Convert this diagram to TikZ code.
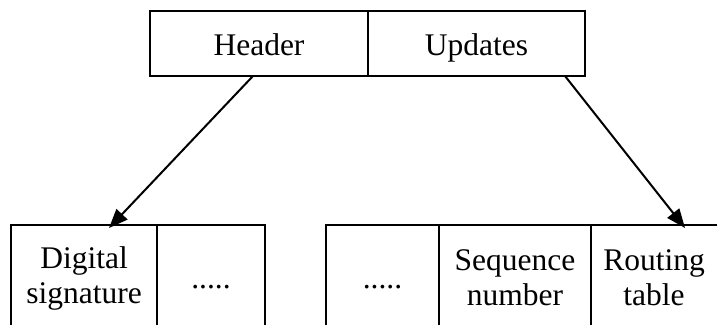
\documentclass[tikz,border=0pt]{standalone}
\usepackage{fontspec}
\setmainfont{Liberation Serif}
\usetikzlibrary{arrows.meta}
% fixed struts so every two-line cell sits on the same baselines
\newcommand\hiline{\rule{0pt}{28pt}}
\newcommand\loline{\rule[-3pt]{0pt}{3pt}}
\begin{document}
\begin{tikzpicture}[x=1pt,y=-1pt,
  line width=2pt,
  every node/.style={font=\fontsize{31.5}{35}\selectfont, inner sep=0pt, outer sep=0pt},
  cell/.style={minimum height=100pt, align=center},
  topcell/.style={minimum height=65pt, text height=25pt, text depth=2pt},
  dotcell/.style={minimum height=100pt, text height=26pt, text depth=0pt},
  pointer/.style={-{Triangle[length=19pt,width=15pt]}, line width=2pt}]
\useasboundingbox (0,0) rectangle (717,325);

% packet: header and updates
\node[topcell, minimum width=218pt] (hdr) at (259,43.5) {Header};
\node[topcell, minimum width=217pt] (upd) at (476.5,43.5) {Updates};
\draw (hdr.north west) rectangle (upd.south east);
\draw (hdr.north east) -- (hdr.south east);

% header fields (open at the bottom)
\node[cell, minimum width=146pt] (sig) at (84,275) {\hiline Digital\\signature\loline};
\node[dotcell, minimum width=108pt] (dotsA) at (211,275) {.....};
\draw (sig.south west) -- (sig.north west) -- (dotsA.north east) -- (dotsA.south east);
\draw (sig.north east) -- (sig.south east);

% update fields (open at the bottom and on the right)
\node[dotcell, minimum width=113pt] (dotsB) at (382.5,275) {.....};
\node[cell, minimum width=152pt] (seq) at (515,275) {\hiline Sequence\\number\loline};
\node[cell, minimum width=126pt] (rout) at (654,275) {\hiline Routing\\table\loline};
\draw (dotsB.south west) -- (dotsB.north west) -- (rout.north east);
\draw (seq.north west) -- (seq.south west);
\draw (seq.north east) -- (seq.south east);

% expansion pointers
\draw[pointer] ([xshift=-6pt]hdr.south) -- ([xshift=25pt,yshift=-3pt]sig.north);
\draw[pointer] ([xshift=88.5pt]upd.south) -- ([xshift=31pt,yshift=-3pt]rout.north);
\end{tikzpicture}
\end{document}
